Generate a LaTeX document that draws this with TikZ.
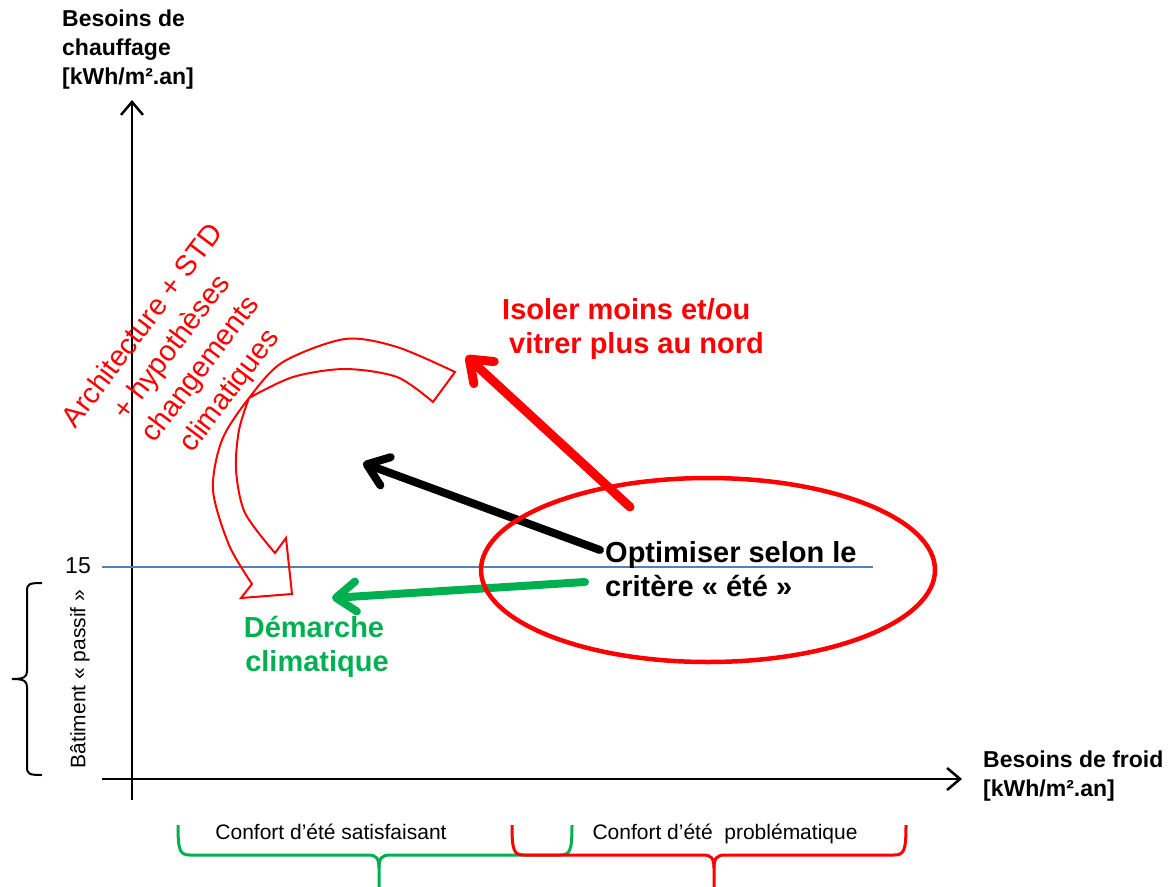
\documentclass[tikz,border=0pt]{standalone}
\usepackage{fontspec}
\setmainfont{Liberation Sans}
\usetikzlibrary{arrows.meta}
\definecolor{ered}{RGB}{255,0,0}
\definecolor{egreen}{RGB}{0,176,80}
\definecolor{eblue}{RGB}{79,129,189}

\begin{document}
\begin{tikzpicture}[x=1pt,y=-1pt,
  axislabel/.style={inner sep=0pt, anchor=base west, font=\fontsize{23}{28}\selectfont\bfseries},
  biglabel/.style={inner sep=0pt, anchor=base, font=\fontsize{29}{35}\selectfont\bfseries},
  smalllabel/.style={inner sep=0pt, font=\fontsize{21}{25}\selectfont},
  axisline/.style={line width=2.5pt, -{Straight Barb[length=13pt,width=22pt]}},
  fatarrow/.style={line width=8pt, line cap=round, -{Straight Barb[length=20pt,width=30pt,round]}},
  bracket/.style={line width=3pt, line join=round},
]
\useasboundingbox (0,0) rectangle (1172,886);

% ---- axes ----
\coordinate (yfoot) at (132,800);
\coordinate (ytop)  at (132,100);
\coordinate (xfoot) at (102,779);
\coordinate (xend)  at (962,779);
\draw[axisline] (yfoot) -- (ytop);
\draw[axisline] (xfoot) -- (xend);

\node[axislabel] (ylab1) at (62,26) {Besoins de};
\node[axislabel] (ylab2) at (62,55) {chauffage};
\node[axislabel] (ylab3) at (62,84) {[kWh/m².an]};
\node[axislabel] (xlab1) at (983,767) {Besoins de froid};
\node[axislabel] (xlab2) at (983,796) {[kWh/m².an]};

% ---- passive threshold ----
\coordinate (tL) at (102,567);
\coordinate (tR) at (873,567);
\draw[eblue, line width=2pt] (tL) -- (tR);
\node[inner sep=0pt, anchor=east, font=\fontsize{23}{28}\selectfont] (fifteen) at (91,566) {15};

\draw[line width=2pt] (42,583) .. controls (29,583) and (27,584) .. (27,591) -- (27,671)
  .. controls (27,677) and (24,679) .. (12,679) .. controls (24,679) and (27,681) .. (27,687)
  -- (27,767) .. controls (27,774) and (29,775) .. (42,775);
\node[smalllabel, rotate=90] (passif) at (80,679) {Bâtiment « passif »};

% ---- comfort brackets ----
\draw[bracket, egreen] (178,825) .. controls (178,851) and (180,855) .. (190,855) -- (368,855)
  .. controls (376,855) and (379,858) .. (379,868) -- (379,890);
\draw[bracket, egreen] (379,868) .. controls (379,858) and (382,855) .. (390,855) -- (560,855)
  .. controls (570,855) and (572,851) .. (572,825);
\draw[bracket, ered] (512,825) .. controls (512,851) and (514,855) .. (524,855) -- (703,855)
  .. controls (711,855) and (714,858) .. (714,868) -- (714,890);
\draw[bracket, ered] (714,868) .. controls (714,858) and (717,855) .. (725,855) -- (894,855)
  .. controls (904,855) and (906,851) .. (906,825);
\node[smalllabel, anchor=base] (okcomfort) at (331,839) {Confort d’été satisfaisant};
\node[smalllabel, anchor=base] (badcomfort) at (725,839) {Confort d’été\ \ problématique};

% ---- curved hollow arrow ----
\draw[ered, line width=2pt, line join=miter]
  (455,372) -- (433,402)
  -- plot[smooth] coordinates {(433,402) (397,377) (345,369) (293,377) (249,398)}
  -- plot[smooth] coordinates {(249,398) (239,430) (236,470) (245,513) (275,553)}
  -- (286,538) -- (292,594) -- (241,598) -- (252,584)
  -- plot[smooth] coordinates {(252,584) (229,545) (213,490) (222,440) (249,398) (283,362) (345,339) (397,347) (455,372)}
  -- cycle;
\node[inner sep=0pt, ered, rotate=53, align=center, font=\fontsize{29}{36}\selectfont] (archi) at (187,359)
  {Architecture + STD\\+ hypothèses\\changements\\climatiques};

% ---- strategy arrows ----
\coordinate (redstart) at (630,507);
\coordinate (redtip) at (466,356);
\coordinate (blackstart) at (600,550);
\coordinate (blacktip) at (363,463);
\coordinate (greenstart) at (585,582);
\coordinate (greentip) at (332,598);
\draw[fatarrow, ered, line width=9pt] (redstart) -- (redtip);
\draw[fatarrow, black] (blackstart) -- (blacktip);
\draw[fatarrow, egreen] (greenstart) -- (greentip);

\draw[ered, line width=4.5pt] (708,570) ellipse [x radius=227, y radius=92];

% ---- labels ----
\node[biglabel, anchor=base west, ered] (iso1) at (502,319) {Isoler moins et/ou};
\node[biglabel, anchor=base west, ered] (iso2) at (509,353) {vitrer plus au nord};
\node[biglabel, anchor=base west] (opt1) at (605,562) {Optimiser selon le};
\node[biglabel, anchor=base west] (opt2) at (605,596) {critère « été »};
\node[biglabel, egreen] (dem1) at (314,637) {Démarche};
\node[biglabel, egreen] (dem2) at (317,671) {climatique};
\end{tikzpicture}
\end{document}
